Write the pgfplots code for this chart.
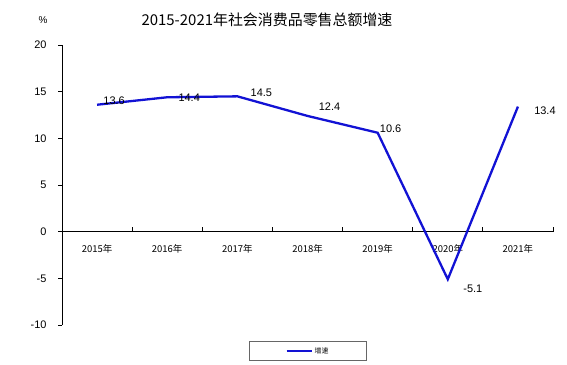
\documentclass[border=0pt]{standalone}
\usepackage{pgfplots}
\pgfplotsset{compat=1.18}
\usepackage{fontspec}
\setmainfont{Liberation Sans}
\newfontfamily\cjk{Noto Sans CJK SC}
\definecolor{lineblue}{RGB}{18,18,212}
\begin{document}
\begin{tikzpicture}[x=1bp,y=1bp]
\useasboundingbox (0,0) rectangle (567,364);
\node[font=\cjk\fontsize{15}{15}\selectfont] at (267,344) {2015-2021年社会消费品零售总额增速};
\node[font=\fontsize{10}{10}\selectfont] at (43,344) {\%};
\begin{axis}[
  at={(62bp,39bp)}, anchor=south west,
  scale only axis, width=491bp, height=280bp,
  xmin=-0.5, xmax=6.5, ymin=-10, ymax=20,
  axis x line=middle, axis y line=left,
  axis line style={black, line width=0.8pt, -},
  /pgf/number format/assume math mode=true,
  xtick={0,...,6},
  xticklabels={2015年,2016年,2017年,2018年,2019年,2020年,2021年},
  x tick label style={font=\cjk\fontsize{9.5}{10}\selectfont, yshift=-5bp, anchor=north},
  major x tick style={draw=none},
  minor xtick={0.5,1.5,...,6.5},
  minor x tick style={black, line width=0.8pt, yshift=5bp},
  minor tick length=5bp,
  ytick={-10,-5,...,20},
  y tick label style={font=\fontsize{11}{11}\selectfont, xshift=-8bp},
  major y tick style={black, line width=0.8pt},
  major tick length=4bp,
  tick align=outside,
  ytick pos=left,
  clip=false,
  legend style={at={(0.501,-0.057)}, anchor=north, draw=gray!80!black, line width=0.6pt,
    font=\cjk\fontsize{7}{7}\selectfont, inner xsep=36bp, inner ysep=4bp,
    legend cell align=left},
  legend image code/.code={\draw[#1] (0,0) -- (25bp,0);},
]
\addplot[lineblue, line width=2.3bp] coordinates {(0,13.6) (1,14.4) (2,14.5) (3,12.4) (4,10.6) (5,-5.1) (6,13.4)};
\addlegendentry{增速}
\begin{scope}[every node/.style={font=\fontsize{11}{11}\selectfont}]
\node at (axis cs:0,13.6) [xshift=17bp, yshift=4bp] {13.6};
\node at (axis cs:1,14.4) [xshift=22bp, yshift=0bp] {14.4};
\node at (axis cs:2,14.5) [xshift=24bp, yshift=4bp] {14.5};
\node at (axis cs:3,12.4) [xshift=22bp, yshift=9bp] {12.4};
\node at (axis cs:4,10.6) [xshift=13bp, yshift=4bp] {10.6};
\node at (axis cs:5,-5.1) [xshift=25bp, yshift=-10bp] {-5.1};
\node at (axis cs:6,13.4) [xshift=27bp, yshift=-4bp] {13.4};
\end{scope}
\end{axis}
\end{tikzpicture}
\end{document}
